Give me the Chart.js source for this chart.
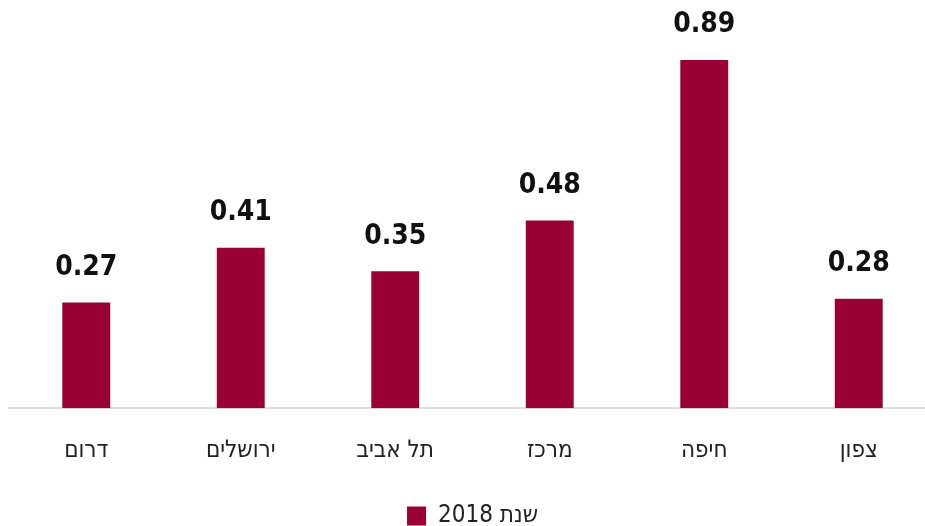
<!DOCTYPE html>
<html lang="he">
<head>
<meta charset="utf-8">
<title>שנת 2018</title>
<script src="https://cdn.jsdelivr.net/npm/chart.js@4/dist/chart.umd.min.js"></script>
<style>
  html, body { margin: 0; padding: 0; background: #fff; overflow: hidden; }
  #wrap { width: 940px; height: 538px; }
</style>
</head>
<body>
<div id="wrap"><canvas id="grafica" width="940" height="538"></canvas></div>
<script>
// ==============================
// DATOS
// ==============================
const regiones = ["דרום", "ירושלים", "תל אביב", "מרכז", "חיפה", "צפון"];
const valores2018 = [0.27, 0.41, 0.35, 0.48, 0.89, 0.28];
const serie = "שנת 2018";

const COLOR = "#990033";
const FUENTE = "'DejaVu Sans Condensed', 'Liberation Sans Narrow', sans-serif";

// ==============================
// ETIQUETAS SOBRE LAS BARRAS
// ==============================
const etiquetas = {
  id: "etiquetas",
  afterDatasetsDraw(chart) {
    const ctx = chart.ctx;
    const meta = chart.getDatasetMeta(0);
    ctx.save();
    ctx.font = "bold 28px " + FUENTE;
    ctx.fillStyle = "#111";
    ctx.textAlign = "center";
    ctx.textBaseline = "bottom";
    meta.data.forEach((bar, i) => {
      ctx.fillText(valores2018[i].toFixed(2), bar.x, bar.y - 21);
    });
    ctx.restore();
  }
};

// ==============================
// GRAFICA
// ==============================
new Chart(document.getElementById("grafica"), {
  type: "bar",
  data: {
    labels: regiones,
    datasets: [{
      label: serie,
      data: valores2018,
      backgroundColor: COLOR,
      borderWidth: 0,
      barPercentage: 0.31,
      categoryPercentage: 1
    }]
  },
  options: {
    responsive: false,
    animation: false,
    layout: { padding: { left: 9, right: 4, top: 17, bottom: 0 } },
    scales: {
      x: {
        grid: { display: false },
        border: { color: "#dddddd", width: 2 },
        ticks: {
          color: "#222",
          padding: 20,
          font: { family: FUENTE, size: 24 }
        }
      },
      y: {
        display: false,
        min: 0,
        max: 1
      }
    },
    plugins: {
      tooltip: { enabled: false },
      legend: {
        position: "bottom",
        textDirection: "rtl",
        labels: {
          color: "#222",
          boxWidth: 19,
          boxHeight: 19,
          padding: 19,
          font: { family: FUENTE, size: 24 }
        }
      }
    }
  },
  plugins: [etiquetas]
});
</script>
</body>
</html>
